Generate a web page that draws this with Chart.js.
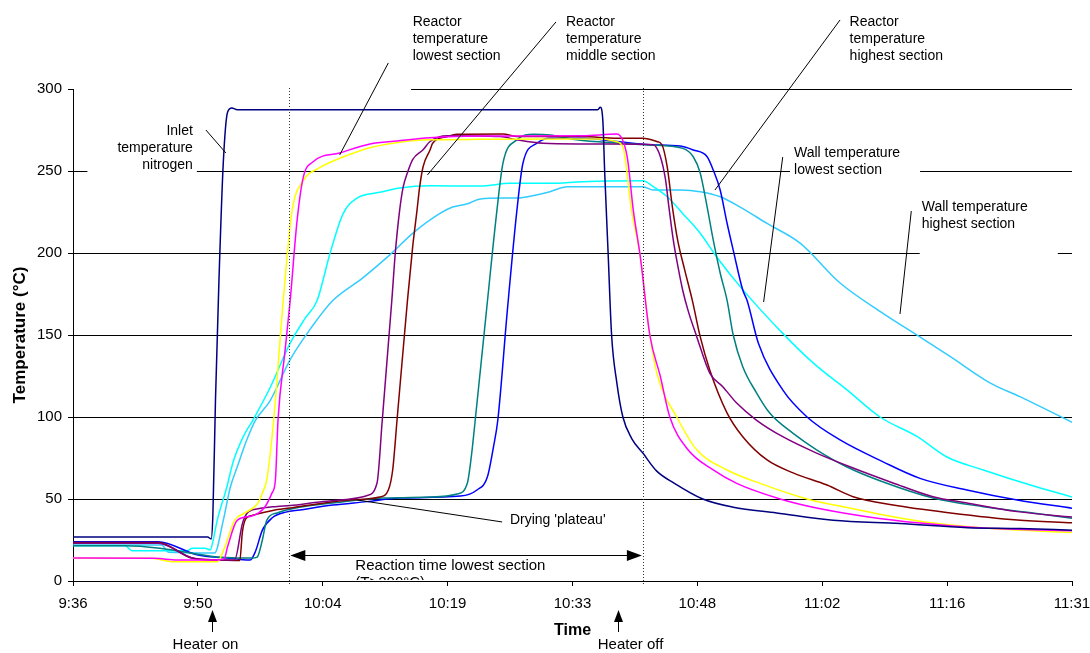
<!DOCTYPE html>
<html>
<head>
<meta charset="utf-8">
<script src="https://cdn.jsdelivr.net/npm/chart.js@4.4.1/dist/chart.umd.min.js"></script>
<style>
  html, body { margin: 0; padding: 0; background: #fff; }
  #wrap { width: 1090px; height: 653px; }
</style>
</head>
<body>
<div id="wrap"><canvas id="c" width="1090" height="653"></canvas></div>
<script>
// Time axis: minutes after 9:36, eight equal intervals up to 11:31
const timeLabels = ['9:36', '9:50', '10:04', '10:19', '10:33', '10:48', '11:02', '11:16', '11:31'];
const spanMinutes = 115;
const tempTicks = [0, 50, 100, 150, 200, 250, 300];

// Reaction window of the lowest section (T > 200 °C), minutes after 9:36
const reactionStart = 24.9;
const reactionEnd = 65.6;
const heaterOn = 16.0;
const heaterOff = 62.7;

// Logged temperatures: [minutes after 9:36, °C]
const inletNitrogen = [[0,26.8],[15.5,26.8],[15.9,25.6],[16.1,40],[16.4,110],[16.8,183],[17.3,255],[17.8,286],[18.3,288.4],[18.9,287.4],[60.4,287.4],[60.7,288.8],[61.0,280],[61.2,250],[61.6,200],[62.0,150],[62.6,121],[63.3,100],[64.3,87],[65.6,78],[67.2,67],[69.1,60],[72.5,50],[76.0,45],[81.0,41.5],[87.5,37],[95.2,35],[103.0,32.5],[109,32],[115,31]];

const reactorLowA = [[0,14],[9.4,13.8],[12,12.8],[16.3,12.8],[17.4,13.5],[17.8,21],[18.9,37],[20.6,39.6],[22.1,45.3],[22.9,53.6],[23.3,61.6],[23.6,98],[24.4,140],[25.0,171],[25.8,220],[26.5,246],[27.6,255.5],[30.7,261],[34.2,266.5],[37.3,268.3],[41.1,270.3],[46.9,271.3],[58.7,271.5],[62.6,272.5],[63.8,258.5],[64.5,226],[65.3,198],[66.4,150],[67.6,125],[68.7,100],[70.8,80],[73.7,67.7],[76.4,59.5],[81.4,50],[85.6,44.5],[91.4,39.2],[97.5,35.3],[104.8,32.3],[115,30.7]];

const reactorLowB = [[0,13.8],[9.0,13.8],[11.5,11.8],[16.6,11.8],[17.5,21],[18.6,37],[19.8,41.5],[21.3,47.6],[21.8,53.6],[22.3,61.6],[23.1,98],[24.2,171],[25.2,225],[26.5,244],[28.4,252],[31.1,258.5],[34.5,264.6],[38.0,267.9],[41.1,269],[46.9,269.3],[56,269.5],[60.5,269.5],[62.5,268],[63.3,264.6],[64.3,226],[65.3,198],[66.4,150],[67.3,125],[69.5,100],[71.8,80],[75.3,67.7],[79.1,59.5],[84.5,50],[89.4,44.5],[94.4,39.2],[99.0,35.3],[104.8,32.3],[115,29.5]];

const reactorMidA = [[0,23],[9.8,23],[13.7,14],[16.0,12.8],[18.6,12.8],[19.5,35],[20.0,41],[21.3,44],[23.5,45.5],[25.0,46],[28.1,48],[31.9,50],[33.8,52],[35.0,59.8],[35.6,98],[36.7,171],[37.1,200],[37.6,226],[38.0,240],[38.5,249],[39.1,257],[40.3,263],[41.1,268],[43.1,271.5],[49.2,271],[51.1,269],[54.1,266.9],[58.7,266.5],[65.6,266.3],[66.8,266],[67.6,259],[68.2,245],[68.6,228],[69.1,208],[69.7,190],[70.2,177],[70.8,165],[71.8,149],[73.3,126.8],[74.8,118.5],[76.4,108.5],[78.7,98],[81.7,88],[85.6,78],[89.8,68.9],[94.4,59.8],[99.0,51.4],[102.9,47.6],[108.7,42.3],[115,39]];

const reactorMidB = [[0,23.5],[9.8,23.5],[13.7,14],[16,13],[19.2,12.5],[19.5,30],[19.9,38],[20.6,40],[23.0,43],[25.0,44.5],[28.1,47],[31.9,49.4],[35.3,51.2],[36.3,55.5],[36.8,67.7],[37.3,98],[38.5,171],[39.1,203.7],[39.6,226],[39.9,240],[40.3,252.6],[41.1,262.8],[41.4,266.9],[43.1,271],[44.2,272.4],[49.5,272.6],[51.1,271],[58.7,271],[62.6,270],[65.6,270],[67.2,268],[67.8,266],[68.4,252.6],[69.0,228],[69.6,208],[70.4,190],[71.3,171],[72.2,149],[73.3,128.7],[75.3,102.4],[77.1,88],[79.9,73.8],[82.9,65.9],[86.8,58.5],[89.8,51.4],[94.4,46.3],[101.0,41.5],[108.7,37.2],[115,35.5]];

const reactorHighA = [[0,21.5],[6,21.5],[10,20],[16.1,15],[18.3,14.2],[20.6,14],[21.2,14.6],[21.8,25],[22.3,37],[23.5,41.5],[26.1,45],[29.9,47.6],[35.7,50.6],[41.4,51.2],[44.2,53],[45.4,59.8],[45.9,78],[46.3,98],[47.6,165],[48.8,226],[49.5,254.9],[51.1,269],[53.0,272.4],[54.9,272],[58.0,269],[62.6,267],[66.4,265.9],[70.2,263.8],[71.4,258.7],[72.2,248.8],[73.0,228],[73.7,208],[74.5,187.8],[75.3,171],[76.0,150],[77.1,130.7],[78.7,114.6],[80.2,102.4],[82.9,90],[85.6,80],[89.1,69.5],[93.2,60.5],[99.0,50.6],[104.8,45.3],[110.5,41.5],[115,38.3]];

const reactorHighB = [[0,24],[9.8,24],[14.4,15.8],[18.3,13.8],[20.0,12.8],[20.4,12.8],[21.0,18],[21.8,31],[22.9,38.4],[24.5,42],[26.1,43.3],[29.9,46.3],[33.8,48.4],[37.6,50.6],[44.6,51.8],[46.5,55.5],[47.7,63.4],[48.4,81.7],[48.9,98],[50.0,165],[51.1,226],[51.8,254.9],[53.4,266.9],[54.9,270],[58.7,270],[62.6,268],[66.4,266],[69.9,265.2],[71.4,262.8],[73.0,258.7],[73.7,250.6],[74.5,238.4],[75.3,218],[76.0,201.8],[77.1,177.4],[77.6,171],[78.9,145],[81.7,116.5],[84.5,100],[88.3,86],[93.2,72.8],[97.5,62.6],[102.9,55.5],[108.7,49.4],[115,44.4]];

const wallLow = [[0,21.5],[6.0,21.5],[6.8,18.5],[13.2,18.5],[13.7,20],[15.2,20],[15.8,19],[16.1,24],[16.6,37],[17.7,57],[18.4,72],[19.6,88],[20.7,98],[22.7,118],[25.0,145],[26.7,160],[28.1,171],[29.6,200],[31.1,224],[32.7,233.5],[35.3,237],[37.6,239.6],[41.1,241],[46.9,240.8],[50.3,242.5],[54.9,242.5],[58.7,243.5],[65.6,244],[66.8,240.5],[68.4,234.3],[70.2,224],[72.2,212],[74.1,197.6],[76.8,179.5],[81.7,151],[85.2,133],[89.1,116.5],[92.9,100],[97.2,88],[100.6,75.6],[104.8,67.7],[110.2,58.5],[115,51.2]];

const wallHigh = [[0,22],[10.2,22],[11,17.5],[16.1,17],[16.3,17],[17.3,37],[18.1,57],[18.9,69.5],[20.0,86],[21.0,98],[22.7,110],[25.0,135],[27.5,155],[29.9,171],[33.4,185],[36.5,199],[39.1,212],[42.2,224],[43.7,228],[45.4,230],[46.9,233],[49.5,233.5],[51.1,233.5],[52.6,234.6],[54.9,237.4],[56.9,240.4],[65.6,240.4],[66.8,238.4],[69.9,238.4],[72.2,237.4],[74.5,234.3],[76.8,228],[79.9,218],[83.7,206],[88.3,181.7],[93.2,163.4],[97.5,148.8],[101.0,136.8],[105.6,120.7],[109.0,112.4],[115,96.8]];

const series = [
  { name: 'Inlet temperature nitrogen', points: inletNitrogen, color: '#000080' },
  { name: 'Reactor lowest section (1)', points: reactorLowA, color: '#FF00FF' },
  { name: 'Reactor lowest section (2)', points: reactorLowB, color: '#FFFF00' },
  { name: 'Reactor middle section (1)', points: reactorMidA, color: '#800080' },
  { name: 'Reactor middle section (2)', points: reactorMidB, color: '#800000' },
  { name: 'Reactor highest section (1)', points: reactorHighA, color: '#008080' },
  { name: 'Reactor highest section (2)', points: reactorHighB, color: '#0000FF' },
  { name: 'Wall temperature lowest section', points: wallLow, color: '#00FFFF' },
  { name: 'Wall temperature highest section', points: wallHigh, color: '#33CCFF' }
];

const FAMILY = '"Liberation Sans", Arial, Helvetica, sans-serif';
const noteFont = `14px ${FAMILY}`;
const bigFont = `15px ${FAMILY}`;
const LINE_GAP = 17;

// Callout texts, anchored in data units (minutes, °C); leader = [from, to]
const notes = [
  { lines: ['Reactor', 'temperature', 'lowest section'], at: [39.1, 340.9], align: 'left',
    leader: [[36.3, 315.9], [30.7, 259.8]] },
  { lines: ['Reactor', 'temperature', 'middle section'], at: [56.75, 340.9], align: 'left',
    leader: [[55.6, 340.9], [40.8, 247.6]] },
  { lines: ['Reactor', 'temperature', 'highest section'], at: [89.4, 340.9], align: 'left',
    leader: [[88.3, 342.1], [73.9, 238.4]] },
  { lines: ['Inlet', 'temperature', 'nitrogen'], at: [13.8, 274.4], align: 'right',
    leader: [[15.3, 275.0], [17.6, 261.0]], pad: [30, 13, 4, 12] },
  { lines: ['Wall temperature', 'lowest section'], at: [83.0, 261.0], align: 'left',
    leader: [[81.7, 258.5], [79.5, 170.1]], pad: [4, 12, 20, 8] },
  { lines: ['Wall temperature', 'highest section'], at: [97.7, 228.0], align: 'left',
    leader: [[96.5, 225.6], [95.2, 162.8]], pad: [2, 12, 30, 34] },
  { lines: ["Drying 'plateau'"], at: [50.3, 37.2], align: 'left',
    leader: [[32.7, 49.4], [49.4, 36.0]] }
];

// Parts of gridlines left blank (value in °C, span in minutes)
const gridGaps = [{ value: 300, from: 0, to: 38.8 }];

function noteRect(chart, n) {
  const { x, y } = chart.scales;
  const ctx = chart.ctx;
  ctx.font = noteFont;
  const w = Math.max(...n.lines.map(s => ctx.measureText(s).width));
  const ax = x.getPixelForValue(n.at[0]);
  const ay = y.getPixelForValue(n.at[1]);
  const left = n.align === 'center' ? ax - w / 2 : n.align === 'right' ? ax - w : ax;
  const [pl, pt, pr, pb] = n.pad;
  return { x: left - pl, y: ay - pt, w: w + pl + pr, h: (n.lines.length - 1) * LINE_GAP + pt + pb };
}

function arrowHead(ctx, tipX, tipY, dir, len, half) {
  ctx.beginPath();
  if (dir === 'left' || dir === 'right') {
    const s = dir === 'left' ? 1 : -1;
    ctx.moveTo(tipX, tipY);
    ctx.lineTo(tipX + s * len, tipY - half);
    ctx.lineTo(tipX + s * len, tipY + half);
  } else {
    ctx.moveTo(tipX, tipY);
    ctx.lineTo(tipX - half, tipY + len);
    ctx.lineTo(tipX + half, tipY + len);
  }
  ctx.closePath();
  ctx.fill();
}

const notesPlugin = {
  id: 'notes',
  beforeDatasetsDraw(chart) {
    // text boxes are opaque: they mask the gridlines behind them
    const ctx = chart.ctx;
    const { x, y } = chart.scales;
    ctx.save();
    ctx.fillStyle = '#fff';
    notes.filter(n => n.pad).forEach(n => {
      const r = noteRect(chart, n);
      ctx.fillRect(r.x, r.y, r.w, r.h);
    });
    gridGaps.forEach(g => {
      const py = y.getPixelForValue(g.value);
      ctx.fillRect(x.getPixelForValue(g.from) + 1, py - 2, x.getPixelForValue(g.to) - x.getPixelForValue(g.from), 4);
    });
    ctx.restore();
  },
  afterDraw(chart) {
    const ctx = chart.ctx;
    const { x, y } = chart.scales;
    const area = chart.chartArea;
    const X = v => x.getPixelForValue(v);
    const Y = v => y.getPixelForValue(v);
    ctx.save();

    // dotted markers of the reaction window
    ctx.strokeStyle = '#333';
    ctx.lineWidth = 1;
    ctx.setLineDash([1, 2]);
    [reactionStart, reactionEnd].forEach(m => {
      const px = Math.round(X(m)) + 0.5;
      ctx.beginPath();
      ctx.moveTo(px, area.top - 1);
      ctx.lineTo(px, area.bottom + 5);
      ctx.stroke();
    });
    ctx.setLineDash([]);

    // callouts
    ctx.fillStyle = '#000';
    ctx.strokeStyle = '#000';
    ctx.font = noteFont;
    ctx.textBaseline = 'middle';
    notes.forEach(n => {
      ctx.textAlign = n.align;
      const ax = X(n.at[0]);
      const ay = Y(n.at[1]);
      n.lines.forEach((s, i) => ctx.fillText(s, ax, ay + i * LINE_GAP));
      const [a, b] = n.leader;
      ctx.beginPath();
      ctx.moveTo(X(a[0]), Y(a[1]));
      ctx.lineTo(X(b[0]), Y(b[1]));
      ctx.stroke();
    });

    // reaction time double arrow
    const ry = Math.round(Y(15.9)) + 0.5;
    const rx1 = X(reactionStart), rx2 = X(reactionEnd);
    ctx.lineWidth = 1.2;
    ctx.beginPath();
    ctx.moveTo(rx1 + 8, ry);
    ctx.lineTo(rx2 - 8, ry);
    ctx.stroke();
    arrowHead(ctx, rx1 + 1, ry, 'left', 15, 5.5);
    arrowHead(ctx, rx2 - 1, ry, 'right', 15, 5.5);
    ctx.textAlign = 'left';
    ctx.font = bigFont;
    ctx.fillText('Reaction time lowest section', X(32.5), Y(9.1));
    ctx.save();
    ctx.beginPath();
    ctx.rect(area.left, area.top, area.right - area.left, area.bottom - area.top - 1);
    ctx.clip();
    ctx.fillText('(T>200°C)', X(32.5), Y(9.1) + LINE_GAP);
    ctx.restore();

    // heater on / off markers below the time axis
    ctx.font = bigFont;
    ctx.textAlign = 'center';
    [[heaterOn, 'Heater on', -7], [heaterOff, 'Heater off', 12]].forEach(([m, label, dx]) => {
      const px = Math.round(X(m)) + 0.5;
      ctx.lineWidth = 1;
      ctx.beginPath();
      ctx.moveTo(px, area.bottom + 51);
      ctx.lineTo(px, area.bottom + 38);
      ctx.stroke();
      arrowHead(ctx, px, area.bottom + 29, 'up', 12, 4.5);
      ctx.fillText(label, px + dx, area.bottom + 64);
    });
    ctx.restore();
  }
};

new Chart(document.getElementById('c'), {
  type: 'line',
  data: {
    datasets: series.map(s => ({
      label: s.name,
      data: s.points.map(([m, t]) => ({ x: m, y: t })),
      borderColor: s.color,
      backgroundColor: s.color,
      borderWidth: 1.5,
      pointRadius: 0,
      fill: false,
      cubicInterpolationMode: 'monotone'
    }))
  },
  options: {
    responsive: false,
    animation: false,
    devicePixelRatio: 1,
    layout: { padding: { left: 0, top: 89, right: 18, bottom: 0 } },
    plugins: { legend: { display: false }, tooltip: { enabled: false } },
    scales: {
      x: {
        type: 'linear',
        min: 0,
        max: spanMinutes,
        afterBuildTicks: s => {
          s.ticks = timeLabels.map((_, i) => ({ value: i * spanMinutes / (timeLabels.length - 1) }));
        },
        ticks: {
          autoSkip: false, maxRotation: 0, padding: 9, color: '#000',
          font: { family: FAMILY, size: 15 },
          callback: (v, i) => timeLabels[i]
        },
        grid: { drawOnChartArea: false, drawTicks: true, tickLength: 5, color: '#000' },
        border: { display: true, color: '#000', width: 1 },
        title: { display: true, text: 'Time', color: '#000',
          font: { family: FAMILY, size: 16, weight: 'bold' }, padding: { top: 0, bottom: 13 } },
        afterFit: s => { s.height = 72; s.paddingLeft = 0; s.paddingRight = 0; }
      },
      y: {
        min: 0,
        max: 300,
        afterBuildTicks: s => { s.ticks = tempTicks.map(v => ({ value: v })); },
        ticks: { padding: 6, color: '#000', font: { family: FAMILY, size: 15 } },
        grid: { color: '#000', lineWidth: 1, tickLength: 5 },
        border: { display: true, color: '#000', width: 1 },
        title: { display: true, text: 'Temperature (°C)', color: '#000',
          font: { family: FAMILY, size: 17, weight: 'bold' }, padding: { top: 10, bottom: 0 } },
        afterFit: s => { s.width = 73; s.paddingTop = 0; s.paddingBottom = 0; }
      }
    }
  },
  plugins: [notesPlugin]
});
</script>
</body>
</html>
